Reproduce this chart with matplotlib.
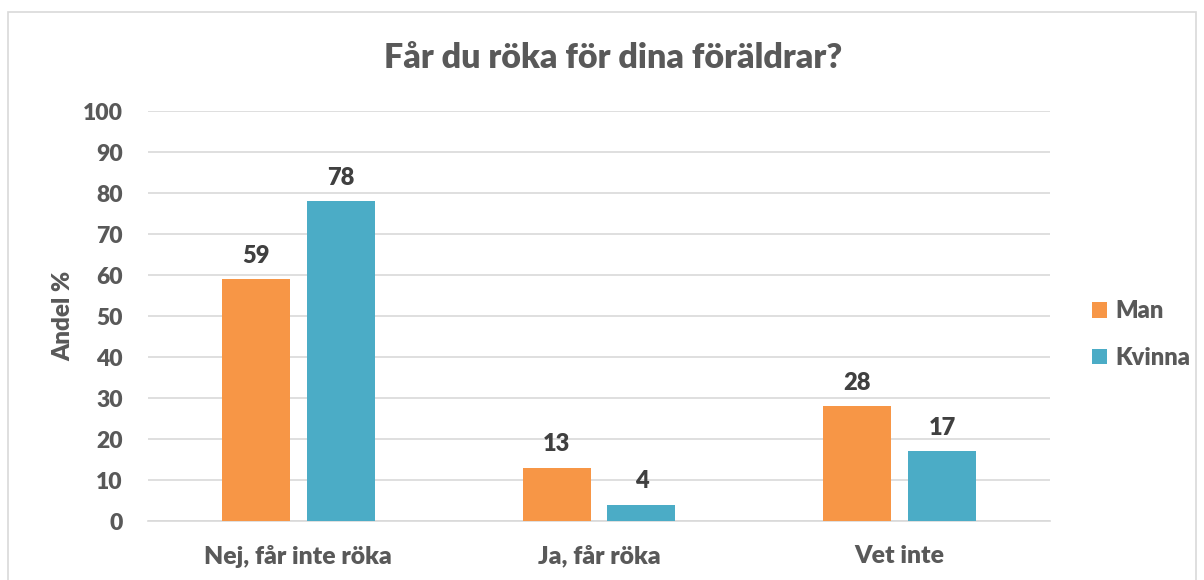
import matplotlib.pyplot as plt
from matplotlib.patches import Rectangle
import numpy as np

# Data
kategorier = ['Nej, får inte röka', 'Ja, får röka', 'Vet inte']
man = [59, 13, 28]
kvinna = [78, 4, 17]
serier = ['Man', 'Kvinna']

plt.rcParams['font.family'] = ['Lato', 'DejaVu Sans']
grå = '#595959'
mörkgrå = '#404040'
orange = '#F79646'
blå = '#4BACC6'
vikt = 'heavy'

fig = plt.figure(figsize=(12.04, 5.8), dpi=100)
ax = fig.add_axes([0.1229, 0.1017, 0.7493, 0.7069])

# Ram runt diagrammet
fig.patches.append(Rectangle((8 / 1204, -0.05), 1188 / 1204, 1 - 12 / 580 + 0.05,
                             transform=fig.transFigure, fill=False,
                             edgecolor='#D9D9D9', linewidth=1.2))

x = np.arange(len(kategorier))
bredd = 0.226
b1 = ax.bar(x - 0.141, man, bredd, color=orange, label=serier[0], zorder=3)
b2 = ax.bar(x + 0.141, kvinna, bredd, color=blå, label=serier[1], zorder=3)

# Värden ovanför staplarna
for staplar in (b1, b2):
    for s in staplar:
        h = s.get_height()
        ax.text(s.get_x() + s.get_width() / 2, h + 3, f'{h:.0f}', ha='center', va='bottom',
                fontsize=17, fontweight=vikt, color=mörkgrå)

ax.set_xlim(-0.5, 2.5)
ax.set_ylim(0, 100)
ax.set_yticks(range(0, 101, 10))
ax.set_xticks(x)
ax.set_xticklabels(kategorier)
ax.grid(axis='y', color='#D9D9D9', linewidth=1.2, zorder=0)
for sida in ['top', 'right', 'left']:
    ax.spines[sida].set_visible(False)
ax.spines['bottom'].set_color('#D9D9D9')
ax.spines['bottom'].set_linewidth(1.2)
ax.tick_params(length=0)
ax.tick_params(axis='y', labelsize=16.5, colors=grå, pad=18)
ax.tick_params(axis='x', labelsize=17.8, colors=grå, pad=17)
for t in ax.get_xticklabels() + ax.get_yticklabels():
    t.set_fontweight(vikt)

ax.set_ylabel('Andel %', fontsize=17.5, fontweight=vikt, color=grå, labelpad=6)

fig.text(0.509, 0.9, 'Får du röka för dina föräldrar?', ha='center', va='center',
         fontsize=24.5, fontweight=vikt, color=grå)

leg = ax.legend(loc='center left', bbox_to_anchor=(1.023, 0.455), frameon=False,
                fontsize=17, handlelength=0.63, handleheight=0.63, labelspacing=1.03,
                handletextpad=0.34)
for t in leg.get_texts():
    t.set_color(grå)
    t.set_fontweight(vikt)

fig.savefig('out.png', dpi=100)
